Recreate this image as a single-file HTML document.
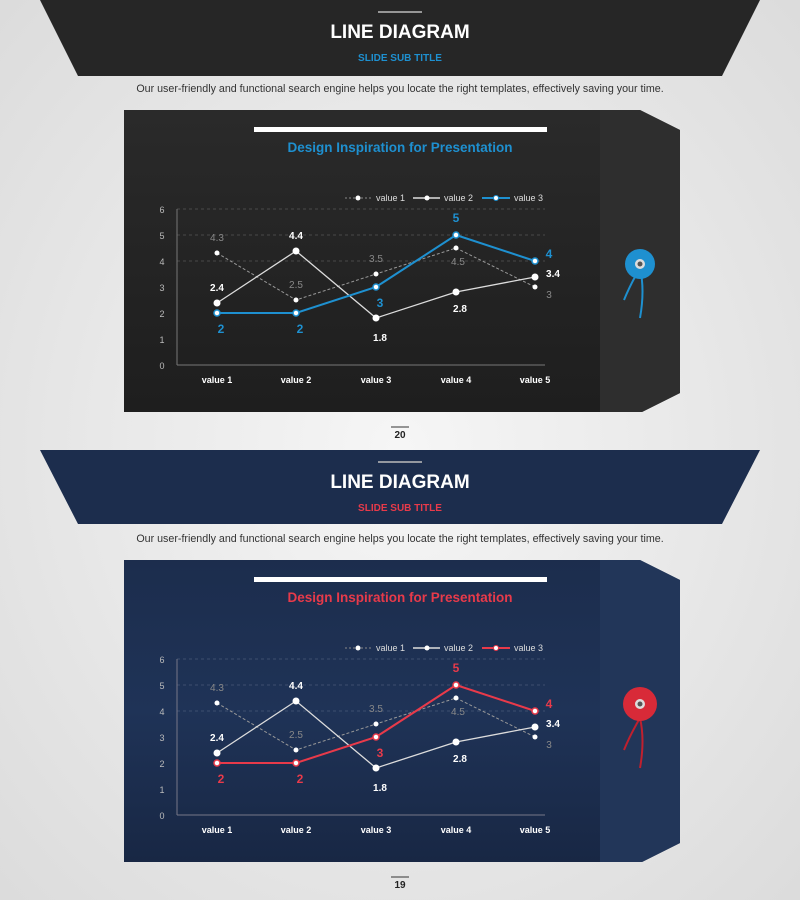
<!DOCTYPE html>
<html><head><meta charset="utf-8"><style>
html,body{margin:0;padding:0;width:800px;height:900px;overflow:hidden;background:#e9e9e9}
svg{display:block}
text{font-family:"Liberation Sans",sans-serif}
</style></head><body>
<svg width="800" height="900" viewBox="0 0 800 900" xmlns="http://www.w3.org/2000/svg">
<defs>
<radialGradient id="bg" cx="50%" cy="50%" r="70%"><stop offset="0" stop-color="#f6f6f6"/><stop offset="1" stop-color="#dcdcdc"/></radialGradient>
<linearGradient id="dk" x1="0" y1="0" x2="0" y2="1"><stop offset="0" stop-color="#2a2a2a"/><stop offset="1" stop-color="#1e1e1e"/></linearGradient>
<linearGradient id="nv" x1="0" y1="0" x2="0" y2="1"><stop offset="0" stop-color="#1c2d4d"/><stop offset="0.5" stop-color="#1f3357"/><stop offset="1" stop-color="#182744"/></linearGradient>
</defs>
<rect width="800" height="900" fill="url(#bg)"/>

<!-- PANEL 1 -->
<g>
<polygon points="40,0 760,0 722,76 78,76" fill="#262626"/>
<line x1="378" y1="12" x2="422" y2="12" stroke="#bbb" stroke-width="1.5"/>
<text x="400" y="38" text-anchor="middle" font-size="19" font-weight="bold" fill="#fff">LINE DIAGRAM</text>
<text x="400" y="61" text-anchor="middle" font-size="10" font-weight="bold" fill="#1e90d0">SLIDE SUB TITLE</text>
<text x="400" y="92" text-anchor="middle" font-size="10.7" fill="#333">Our user-friendly and functional search engine helps you locate the right templates, effectively saving your time.</text>
<polygon points="124,110 640,110 680,130 680,393 642,412 124,412" fill="url(#dk)"/>
<polygon points="600,110 640,110 680,130 680,393 642,412 600,412" fill="#2e2e2e"/>
<rect x="254" y="127" width="293" height="5" fill="#fff"/>
<text x="400" y="152" text-anchor="middle" font-size="13.5" font-weight="bold" fill="#1e90d0">Design Inspiration for Presentation</text>
<g font-size="9" fill="#ddd">
<line x1="345" y1="198" x2="372" y2="198" stroke="#888" stroke-dasharray="2,2"/><circle cx="358" cy="198" r="2.5" fill="#fff"/><text x="376" y="201">value 1</text>
<line x1="413" y1="198" x2="440" y2="198" stroke="#ddd" stroke-width="1.5"/><circle cx="427" cy="198" r="2.5" fill="#fff"/><text x="444" y="201">value 2</text>
<line x1="482" y1="198" x2="510" y2="198" stroke="#1e90d0" stroke-width="2"/><circle cx="496" cy="198" r="2.5" fill="#fff" stroke="#1e90d0"/><text x="514" y="201">value 3</text>
</g>
<g stroke="#555" stroke-dasharray="3,3" stroke-width="0.8"><line x1="177" y1="209" x2="545" y2="209"/><line x1="177" y1="235" x2="545" y2="235"/><line x1="177" y1="261" x2="545" y2="261"/></g>
<line x1="177" y1="209" x2="177" y2="365" stroke="#777"/><line x1="177" y1="365" x2="545" y2="365" stroke="#777"/>
<g font-size="9" fill="#bbb" text-anchor="middle"><text x="162" y="213">6</text><text x="162" y="239">5</text><text x="162" y="265">4</text><text x="162" y="291">3</text><text x="162" y="317">2</text><text x="162" y="343">1</text><text x="162" y="369">0</text></g>
<g font-size="9" font-weight="bold" fill="#fff" text-anchor="middle"><text x="217" y="383">value 1</text><text x="296" y="383">value 2</text><text x="376" y="383">value 3</text><text x="456" y="383">value 4</text><text x="535" y="383">value 5</text></g>
<polyline points="217,253 296,300 376,274 456,248 535,287" fill="none" stroke="#999" stroke-dasharray="3,2"/>
<polyline points="217,303 296,251 376,318 456,292 535,277" fill="none" stroke="#ddd" stroke-width="1.3"/>
<polyline points="217,313 296,313 376,287 456,235 535,261" fill="none" stroke="#1e90d0" stroke-width="2"/>
<g fill="#fff"><circle cx="217" cy="253" r="2.5"/><circle cx="296" cy="300" r="2.5"/><circle cx="376" cy="274" r="2.5"/><circle cx="456" cy="248" r="2.5"/><circle cx="535" cy="287" r="2.5"/>
<circle cx="217" cy="303" r="3.5"/><circle cx="296" cy="251" r="3.5"/><circle cx="376" cy="318" r="3.5"/><circle cx="456" cy="292" r="3.5"/><circle cx="535" cy="277" r="3.5"/></g>
<g fill="#fff" stroke="#1e90d0" stroke-width="1.5"><circle cx="217" cy="313" r="3"/><circle cx="296" cy="313" r="3"/><circle cx="376" cy="287" r="3"/><circle cx="456" cy="235" r="3"/><circle cx="535" cy="261" r="3"/></g>
<g font-size="10" fill="#888" text-anchor="middle"><text x="217" y="241">4.3</text><text x="296" y="288">2.5</text><text x="376" y="262">3.5</text><text x="458" y="265">4.5</text><text x="549" y="298">3</text></g>
<g font-size="10" fill="#fff" font-weight="bold" text-anchor="middle"><text x="217" y="291">2.4</text><text x="296" y="239">4.4</text><text x="380" y="341">1.8</text><text x="460" y="312">2.8</text><text x="553" y="277">3.4</text></g>
<g font-size="12" fill="#1e90d0" font-weight="bold" text-anchor="middle"><text x="221" y="333">2</text><text x="300" y="333">2</text><text x="380" y="307">3</text><text x="456" y="222">5</text><text x="549" y="258">4</text></g>
<path d="M640,268 Q630,285 624,300 M640,268 Q645,290 640,318" fill="none" stroke="#1e90d0" stroke-width="2"/>
<circle cx="640" cy="264" r="15" fill="#1e90d0"/><circle cx="640" cy="264" r="5" fill="#ddd"/><circle cx="640" cy="264" r="2.5" fill="#555"/>
<line x1="391" y1="427" x2="409" y2="427" stroke="#333"/>
<text x="400" y="438" text-anchor="middle" font-size="10" font-weight="bold" fill="#222">20</text>
</g>

<!-- PANEL 2 -->
<g transform="translate(0,450)">
<polygon points="40,0 760,0 722,74 78,74" fill="#1c2d4d"/>
<line x1="378" y1="12" x2="422" y2="12" stroke="#bbb" stroke-width="1.5"/>
<text x="400" y="38" text-anchor="middle" font-size="19" font-weight="bold" fill="#fff">LINE DIAGRAM</text>
<text x="400" y="61" text-anchor="middle" font-size="10" font-weight="bold" fill="#e83a4a">SLIDE SUB TITLE</text>
<text x="400" y="92" text-anchor="middle" font-size="10.7" fill="#333">Our user-friendly and functional search engine helps you locate the right templates, effectively saving your time.</text>
<polygon points="124,110 640,110 680,130 680,393 642,412 124,412" fill="url(#nv)"/>
<polygon points="600,110 640,110 680,130 680,393 642,412 600,412" fill="#223659"/>
<rect x="254" y="127" width="293" height="5" fill="#fff"/>
<text x="400" y="152" text-anchor="middle" font-size="13.5" font-weight="bold" fill="#e83a4a">Design Inspiration for Presentation</text>
<g font-size="9" fill="#ddd">
<line x1="345" y1="198" x2="372" y2="198" stroke="#888" stroke-dasharray="2,2"/><circle cx="358" cy="198" r="2.5" fill="#fff"/><text x="376" y="201">value 1</text>
<line x1="413" y1="198" x2="440" y2="198" stroke="#ddd" stroke-width="1.5"/><circle cx="427" cy="198" r="2.5" fill="#fff"/><text x="444" y="201">value 2</text>
<line x1="482" y1="198" x2="510" y2="198" stroke="#e83a4a" stroke-width="2"/><circle cx="496" cy="198" r="2.5" fill="#fff" stroke="#e83a4a"/><text x="514" y="201">value 3</text>
</g>
<g stroke="#4a5a78" stroke-dasharray="3,3" stroke-width="0.8"><line x1="177" y1="209" x2="545" y2="209"/><line x1="177" y1="235" x2="545" y2="235"/><line x1="177" y1="261" x2="545" y2="261"/></g>
<line x1="177" y1="209" x2="177" y2="365" stroke="#778"/><line x1="177" y1="365" x2="545" y2="365" stroke="#778"/>
<g font-size="9" fill="#bbb" text-anchor="middle"><text x="162" y="213">6</text><text x="162" y="239">5</text><text x="162" y="265">4</text><text x="162" y="291">3</text><text x="162" y="317">2</text><text x="162" y="343">1</text><text x="162" y="369">0</text></g>
<g font-size="9" font-weight="bold" fill="#fff" text-anchor="middle"><text x="217" y="383">value 1</text><text x="296" y="383">value 2</text><text x="376" y="383">value 3</text><text x="456" y="383">value 4</text><text x="535" y="383">value 5</text></g>
<polyline points="217,253 296,300 376,274 456,248 535,287" fill="none" stroke="#999" stroke-dasharray="3,2"/>
<polyline points="217,303 296,251 376,318 456,292 535,277" fill="none" stroke="#ddd" stroke-width="1.3"/>
<polyline points="217,313 296,313 376,287 456,235 535,261" fill="none" stroke="#e83a4a" stroke-width="2"/>
<g fill="#fff"><circle cx="217" cy="253" r="2.5"/><circle cx="296" cy="300" r="2.5"/><circle cx="376" cy="274" r="2.5"/><circle cx="456" cy="248" r="2.5"/><circle cx="535" cy="287" r="2.5"/>
<circle cx="217" cy="303" r="3.5"/><circle cx="296" cy="251" r="3.5"/><circle cx="376" cy="318" r="3.5"/><circle cx="456" cy="292" r="3.5"/><circle cx="535" cy="277" r="3.5"/></g>
<g fill="#fff" stroke="#e83a4a" stroke-width="1.5"><circle cx="217" cy="313" r="3"/><circle cx="296" cy="313" r="3"/><circle cx="376" cy="287" r="3"/><circle cx="456" cy="235" r="3"/><circle cx="535" cy="261" r="3"/></g>
<g font-size="10" fill="#888" text-anchor="middle"><text x="217" y="241">4.3</text><text x="296" y="288">2.5</text><text x="376" y="262">3.5</text><text x="458" y="265">4.5</text><text x="549" y="298">3</text></g>
<g font-size="10" fill="#fff" font-weight="bold" text-anchor="middle"><text x="217" y="291">2.4</text><text x="296" y="239">4.4</text><text x="380" y="341">1.8</text><text x="460" y="312">2.8</text><text x="553" y="277">3.4</text></g>
<g font-size="12" fill="#e83a4a" font-weight="bold" text-anchor="middle"><text x="221" y="333">2</text><text x="300" y="333">2</text><text x="380" y="307">3</text><text x="456" y="222">5</text><text x="549" y="258">4</text></g>
<path d="M640,268 Q630,285 624,300 M640,268 Q645,290 640,318" fill="none" stroke="#c0202e" stroke-width="2"/>
<circle cx="640" cy="254" r="17" fill="#d82a38"/><circle cx="640" cy="254" r="5" fill="#ddd"/><circle cx="640" cy="254" r="2.5" fill="#555"/>
<line x1="391" y1="427" x2="409" y2="427" stroke="#333"/>
<text x="400" y="438" text-anchor="middle" font-size="10" font-weight="bold" fill="#222">19</text>
</g>
</svg>
</body></html>
